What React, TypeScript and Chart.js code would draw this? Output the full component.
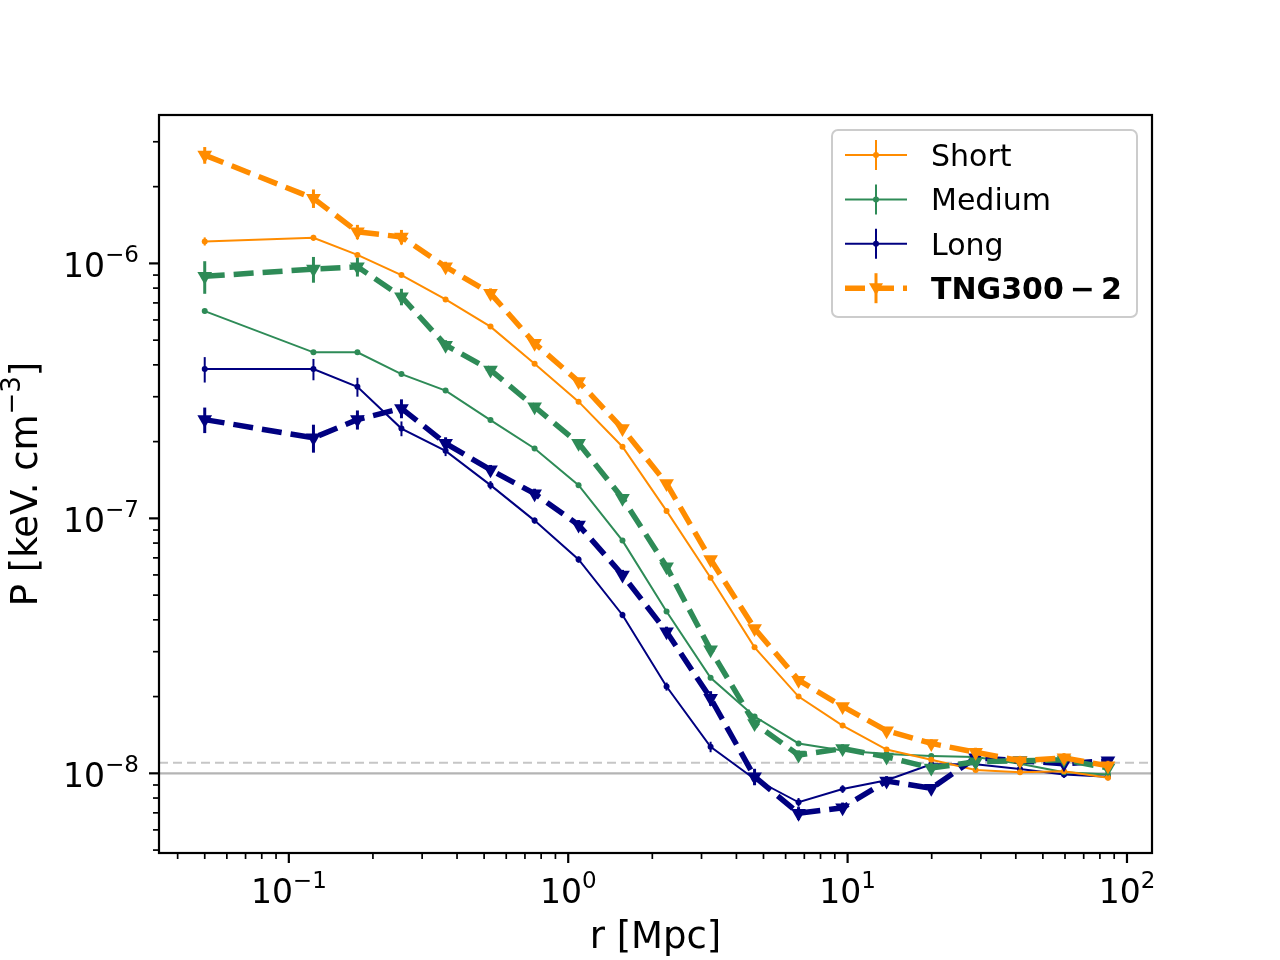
import React, { useEffect, useRef } from 'react';
import { Chart, registerables } from 'chart.js';

Chart.register(...registerables);

// radial bins [Mpc]
const radii = [0.05, 0.1225, 0.176, 0.253, 0.364, 0.527, 0.758, 1.089, 1.564, 2.249, 3.233, 4.645, 6.675, 9.597, 13.79, 19.93, 28.72, 41.4, 59.5, 85.5];

// pressure profiles [keV cm^-3]
const shortP = [1.22e-6, 1.26e-6, 1.08e-6, 9.0e-7, 7.22e-7, 5.65e-7, 4.04e-7, 2.87e-7, 1.91e-7, 1.07e-7, 5.85e-8, 3.12e-8, 2.0e-8, 1.54e-8, 1.24e-8, 1.13e-8, 1.03e-8, 1.01e-8, 1.02e-8, 9.6e-9];
const shortErr = [4.5e-8, 3.4e-8, 2.0e-8, 1.5e-8, 1.0e-8, 8e-9, 6e-9, 4e-9, 3e-9, 1.5e-9, 8e-10, 4e-10, 3e-10, 2e-10, 2e-10, 2e-10, 2e-10, 2e-10, 2e-10, 2e-10];

const mediumP = [6.5e-7, 4.48e-7, 4.48e-7, 3.68e-7, 3.17e-7, 2.43e-7, 1.88e-7, 1.35e-7, 8.18e-8, 4.31e-8, 2.37e-8, 1.67e-8, 1.31e-8, 1.23e-8, 1.19e-8, 1.17e-8, 1.16e-8, 1.09e-8, 1.01e-8, 9.9e-9];
const mediumErr = [1.3e-8, 9e-9, 9e-9, 7e-9, 6e-9, 5e-9, 4e-9, 3e-9, 1.6e-9, 9e-10, 5e-10, 3e-10, 3e-10, 2e-10, 2e-10, 2e-10, 2e-10, 2e-10, 2e-10, 2e-10];

const longP = [3.85e-7, 3.85e-7, 3.28e-7, 2.25e-7, 1.84e-7, 1.35e-7, 9.8e-8, 6.9e-8, 4.18e-8, 2.19e-8, 1.27e-8, 9.5e-9, 7.7e-9, 8.68e-9, 9.4e-9, 1.085e-8, 1.085e-8, 1.04e-8, 9.9e-9, 9.7e-9];
const longErr = [4.4e-8, 3.7e-8, 2.8e-8, 1.5e-8, 8.5e-9, 5e-9, 2.7e-9, 2e-9, 1.2e-9, 8e-10, 6e-10, 4.5e-10, 3e-10, 3e-10, 3e-10, 3e-10, 3e-10, 3e-10, 3e-10, 3e-10];

const tngOrangeP = [2.66e-6, 1.80e-6, 1.33e-6, 1.27e-6, 9.7e-7, 7.63e-7, 4.86e-7, 3.44e-7, 2.25e-7, 1.37e-7, 6.9e-8, 3.7e-8, 2.32e-8, 1.83e-8, 1.47e-8, 1.31e-8, 1.21e-8, 1.12e-8, 1.15e-8, 1.07e-8];
const tngOrangeErr = [2e-7, 1.5e-7, 8.6e-8, 8.3e-8, 4.5e-8, 3.5e-8, 1.8e-8, 9e-9, 6e-9, 3.5e-9, 2e-9, 1e-9, 5e-10, 5e-10, 5e-10, 5e-10, 5e-10, 5e-10, 5e-10, 5e-10];

const tngGreenP = [8.9e-7, 9.5e-7, 9.7e-7, 7.4e-7, 4.78e-7, 3.82e-7, 2.74e-7, 1.97e-7, 1.20e-7, 6.46e-8, 3.05e-8, 1.57e-8, 1.18e-8, 1.25e-8, 1.16e-8, 1.05e-8, 1.11e-8, 1.12e-8, 1.13e-8, 1.05e-8];
const tngGreenErr = [1.3e-7, 1.1e-7, 8.2e-8, 5.5e-8, 2.2e-8, 1.4e-8, 7e-9, 5e-9, 3e-9, 1.8e-9, 1e-9, 5e-10, 5e-10, 5e-10, 5e-10, 5e-10, 5e-10, 5e-10, 5e-10, 5e-10];

const tngNavyP = [2.44e-7, 2.07e-7, 2.44e-7, 2.70e-7, 1.97e-7, 1.55e-7, 1.25e-7, 9.42e-8, 6.0e-8, 3.59e-8, 1.97e-8, 9.7e-9, 6.97e-9, 7.33e-9, 9.33e-9, 8.73e-9, 1.15e-8, 1.12e-8, 1.09e-8, 1.12e-8];
const tngNavyErr = [2.8e-8, 2.6e-8, 2.1e-8, 2.3e-8, 1.1e-8, 7e-9, 5.7e-9, 4.3e-9, 2.8e-9, 1.7e-9, 1.3e-9, 7.2e-10, 4e-10, 3.5e-10, 4.2e-10, 3.2e-10, 4e-10, 3e-10, 3e-10, 3e-10];

const refLevels = [1e-8, 1.1e-8];

const X_MIN = 0.0343;
const X_MAX = 122.9;
const Y_MIN = 4.87e-9;
const Y_MAX = 3.82e-6;

const ORANGE = '#ff8c00';
const GREEN = '#2e8b57';
const NAVY = '#000080';
const FONT = '"DejaVu Sans", sans-serif';

type Seg = { text: string; size: number; rise: number; bold?: boolean };

function drawSegs(ctx: CanvasRenderingContext2D, segs: Seg[], x: number, y: number, align: 'left' | 'center' | 'right') {
  const widths = segs.map((s) => {
    ctx.font = `${s.bold ? 'bold ' : ''}${s.size}px ${FONT}`;
    return ctx.measureText(s.text).width;
  });
  const total = widths.reduce((a, b) => a + b, 0);
  let cx = align === 'left' ? x : align === 'center' ? x - total / 2 : x - total;
  ctx.textAlign = 'left';
  ctx.textBaseline = 'alphabetic';
  segs.forEach((s, i) => {
    ctx.font = `${s.bold ? 'bold ' : ''}${s.size}px ${FONT}`;
    ctx.fillText(s.text, cx, y - s.rise);
    cx += widths[i];
  });
}

const powSegs = (exp: number): Seg[] => [
  { text: '10', size: 33, rise: 0 },
  { text: exp < 0 ? '\u2212' + Math.abs(exp) : String(exp), size: 23, rise: 15 },
];

function logTicks(min: number, max: number) {
  const out: { v: number; major: boolean; exp: number }[] = [];
  for (let k = Math.floor(Math.log10(min)); k <= Math.ceil(Math.log10(max)); k++) {
    for (let d = 1; d <= 9; d++) {
      const v = d * Math.pow(10, k);
      if (v >= min * 0.9999 && v <= max * 1.0001) out.push({ v, major: d === 1, exp: k });
    }
  }
  return out;
}

const refLinesPlugin = {
  id: 'refLines',
  beforeDatasetsDraw(chart: any) {
    const { ctx, chartArea, scales } = chart;
    ctx.save();
    refLevels.forEach((lvl, i) => {
      const py = scales.y.getPixelForValue(lvl);
      ctx.beginPath();
      ctx.strokeStyle = i === 0 ? '#b4b4b4' : '#c6c6c6';
      ctx.lineWidth = i === 0 ? 2.2 : 2;
      ctx.setLineDash(i === 0 ? [] : [9, 5]);
      ctx.moveTo(chartArea.left, py);
      ctx.lineTo(chartArea.right, py);
      ctx.stroke();
    });
    ctx.restore();
  },
};

const errorBarPlugin = {
  id: 'errorBars',
  afterDatasetDraw(chart: any, args: any) {
    const ds = chart.data.datasets[args.index];
    if (!ds.errors) return;
    const { ctx, chartArea, scales } = chart;
    ctx.save();
    ctx.beginPath();
    ctx.rect(chartArea.left, chartArea.top, chartArea.right - chartArea.left, chartArea.bottom - chartArea.top);
    ctx.clip();
    ctx.strokeStyle = ds.borderColor;
    ctx.lineWidth = ds.errWidth;
    ctx.setLineDash([]);
    args.meta.data.forEach((pt: any, i: number) => {
      const v = ds.data[i].y;
      const e = ds.errors[i];
      ctx.beginPath();
      ctx.moveTo(pt.x, scales.y.getPixelForValue(v + e));
      ctx.lineTo(pt.x, scales.y.getPixelForValue(Math.max(v - e, 1e-12)));
      ctx.stroke();
    });
    ctx.restore();
  },
};

const axesPlugin = {
  id: 'mplAxes',
  afterDraw(chart: any) {
    const { ctx, chartArea, scales } = chart;
    const { left, right, top, bottom } = chartArea;
    ctx.save();
    ctx.strokeStyle = '#000';
    ctx.fillStyle = '#000';
    ctx.setLineDash([]);
    ctx.lineWidth = 2.2;
    ctx.strokeRect(left, top, right - left, bottom - top);

    logTicks(X_MIN, X_MAX).forEach((t) => {
      const px = scales.x.getPixelForValue(t.v);
      ctx.lineWidth = t.major ? 2.2 : 1.7;
      ctx.beginPath();
      ctx.moveTo(px, bottom);
      ctx.lineTo(px, bottom + (t.major ? 10 : 6));
      ctx.stroke();
      if (t.major) drawSegs(ctx, powSegs(t.exp), px, 903, 'center');
    });
    logTicks(Y_MIN, Y_MAX).forEach((t) => {
      const py = scales.y.getPixelForValue(t.v);
      ctx.lineWidth = t.major ? 2.2 : 1.7;
      ctx.beginPath();
      ctx.moveTo(left, py);
      ctx.lineTo(left - (t.major ? 10 : 6), py);
      ctx.stroke();
      if (t.major) drawSegs(ctx, powSegs(t.exp), 139, py + 14, 'right');
    });

    drawSegs(ctx, [{ text: 'r [Mpc]', size: 37, rise: 0 }], (left + right) / 2, 948, 'center');
    ctx.save();
    ctx.translate(37, (top + bottom) / 2);
    ctx.rotate(-Math.PI / 2);
    drawSegs(
      ctx,
      [
        { text: 'P [keV. cm', size: 37, rise: 0 },
        { text: '\u22123', size: 26, rise: 17 },
        { text: ']', size: 37, rise: 0 },
      ],
      0,
      0,
      'center'
    );
    ctx.restore();
    ctx.restore();
  },
};

const legendItems = [
  { label: 'Short', color: ORANGE, dashed: false },
  { label: 'Medium', color: GREEN, dashed: false },
  { label: 'Long', color: NAVY, dashed: false },
  { label: 'TNG300\u2009\u2212\u20092', color: ORANGE, dashed: true },
];

const legendPlugin = {
  id: 'mplLegend',
  afterDraw(chart: any) {
    const { ctx } = chart;
    const bx = 832, by = 130, bw = 305, bh = 187;
    ctx.save();
    ctx.beginPath();
    ctx.roundRect(bx, by, bw, bh, 6);
    ctx.fillStyle = 'rgba(255,255,255,0.8)';
    ctx.fill();
    ctx.strokeStyle = '#cccccc';
    ctx.lineWidth = 2;
    ctx.stroke();
    legendItems.forEach((it, i) => {
      const y = 155 + i * 44.4;
      ctx.strokeStyle = it.color;
      ctx.fillStyle = it.color;
      ctx.lineWidth = it.dashed ? 5.5 : 2;
      ctx.setLineDash(it.dashed ? [20, 9] : []);
      ctx.beginPath();
      ctx.moveTo(845, y);
      ctx.lineTo(907, y);
      ctx.stroke();
      ctx.setLineDash([]);
      ctx.lineWidth = it.dashed ? 3 : 2;
      ctx.beginPath();
      ctx.moveTo(876, y - 15);
      ctx.lineTo(876, y + 15);
      ctx.stroke();
      ctx.beginPath();
      if (it.dashed) {
        ctx.moveTo(869, y - 5);
        ctx.lineTo(883, y - 5);
        ctx.lineTo(876, y + 7);
        ctx.closePath();
      } else {
        ctx.arc(876, y, 3, 0, Math.PI * 2);
      }
      ctx.fill();
      ctx.fillStyle = '#000';
      drawSegs(ctx, [{ text: it.label, size: 30, rise: 0, bold: it.dashed }], 931, y + 11, 'left');
    });
    ctx.restore();
  },
};

const points = (vals: number[]) => vals.map((y, i) => ({ x: radii[i], y }));

const solid = (label: string, color: string, vals: number[], errs: number[], order: number) => ({
  label,
  data: points(vals),
  errors: errs,
  errWidth: 2,
  borderColor: color,
  backgroundColor: color,
  borderWidth: 2,
  pointRadius: 3,
  pointStyle: 'circle',
  pointBorderWidth: 0,
  order,
});

const dashed = (label: string, color: string, vals: number[], errs: number[], order: number) => ({
  label,
  data: points(vals),
  errors: errs,
  errWidth: 3,
  borderColor: color,
  backgroundColor: color,
  borderWidth: 5.5,
  borderDash: [20, 9],
  pointRadius: 8.5,
  pointStyle: 'triangle',
  rotation: 180,
  pointBorderWidth: 0,
  order,
});

export default function App() {
  const canvasRef = useRef<HTMLCanvasElement>(null);
  const chartRef = useRef<Chart | null>(null);

  useEffect(() => {
    document.body.style.margin = '0';
    if (!canvasRef.current) return;
    const ctx = canvasRef.current.getContext('2d');
    if (!ctx) return;
    if (chartRef.current) chartRef.current.destroy();

    chartRef.current = new Chart(ctx, {
      type: 'line',
      data: {
        datasets: [
          dashed('TNG300 - 2', ORANGE, tngOrangeP, tngOrangeErr, 0),
          dashed('TNG300 - 2 (medium)', GREEN, tngGreenP, tngGreenErr, 1),
          dashed('TNG300 - 2 (long)', NAVY, tngNavyP, tngNavyErr, 2),
          solid('Short', ORANGE, shortP, shortErr, 3),
          solid('Medium', GREEN, mediumP, mediumErr, 4),
          solid('Long', NAVY, longP, longErr, 5),
        ] as any,
      },
      options: {
        responsive: false,
        devicePixelRatio: 1,
        animation: false,
        layout: { autoPadding: false, padding: { left: 159, right: 128, top: 115, bottom: 107 } },
        plugins: { legend: { display: false }, tooltip: { enabled: false } },
        elements: { line: { tension: 0 } },
        scales: {
          x: {
            type: 'logarithmic',
            min: X_MIN,
            max: X_MAX,
            ticks: { display: false },
            grid: { display: false },
            border: { display: false },
            afterFit: (s: any) => { s.height = 0; },
          },
          y: {
            type: 'logarithmic',
            min: Y_MIN,
            max: Y_MAX,
            ticks: { display: false },
            grid: { display: false },
            border: { display: false },
            afterFit: (s: any) => { s.width = 0; },
          },
        },
      },
      plugins: [refLinesPlugin, errorBarPlugin, axesPlugin, legendPlugin],
    });

    return () => chartRef.current?.destroy();
  }, []);

  return (
    <div style={{ width: 1280, height: 960, background: '#fff' }}>
      <canvas ref={canvasRef} width={1280} height={960}></canvas>
    </div>
  );
}
